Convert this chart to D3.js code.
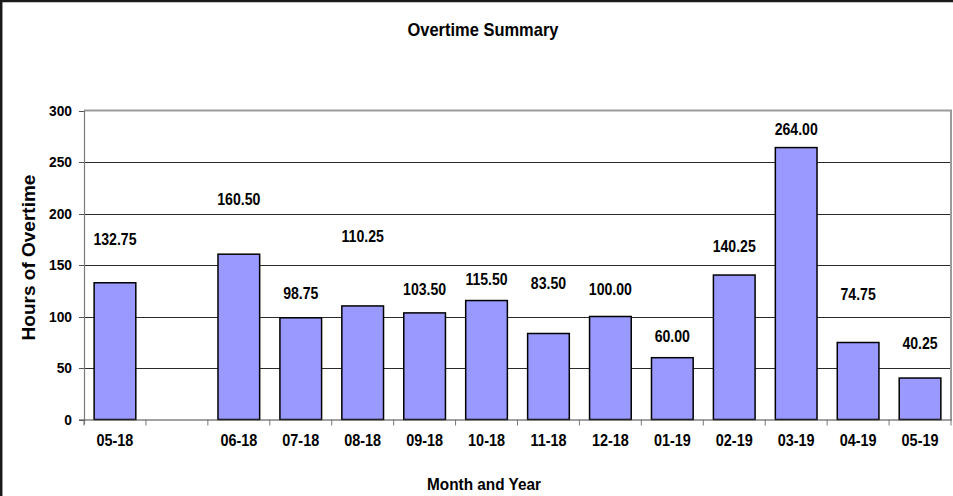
<!DOCTYPE html>
<html>

<head>
    <meta charset="utf-8">
    <title>Overtime Summary</title>
    <style>
        body {
            margin: 0;
            background: #fff;
        }

        text {
            font-family: "Liberation Sans", Arial, sans-serif;
            font-weight: bold;
            fill: #000;
        }
    </style>

    <script src="https://d3js.org/d3.v7.min.js"></script>

</head>

<body>
    <script>
        // chart data (the blank category is the gap Excel left after 05-18)
        var categories = ["05-18", "", "06-18", "07-18", "08-18", "09-18", "10-18", "11-18",
            "12-18", "01-19", "02-19", "03-19", "04-19", "05-19"];
        var hours = [132.75, null, 160.50, 98.75, 110.25, 103.50, 115.50, 83.50,
            100.00, 60.00, 140.25, 264.00, 74.75, 40.25];
        // where each value label sits, in hours (the labels were dragged around by hand)
        var labelAt = [175, null, 214, 123, 178, 126.4, 136, 132.8, 126.4, 81, 168.5, 282, 121.5, 74.5];
        var yTicks = [0, 50, 100, 150, 200, 250, 300];

        var w = 953;
        var h = 496;
        var plotL = 84, plotR = 951, plotT = 110.5, plotB = 419.5;

        var svg = d3.select("body").append("svg")
            .attr("width", w)
            .attr("height", h);

        // outer frame, only the top and left edges show in the picture
        svg.append("rect")
            .attr("x", 1.2).attr("y", 1)
            .attr("width", w + 20).attr("height", h + 20)
            .attr("fill", "none")
            .attr("stroke", "#1a1a1a")
            .attr("stroke-width", 2.5);

        var x = d3.scaleBand()
            .domain(categories)
            .range([plotL, plotR])
            .paddingInner(0.327)
            .paddingOuter(0.1635);

        var y = d3.scaleLinear()
            .domain([0, 300])
            .range([plotB, plotT]);

        function squeeze(sel, k) {
            sel.each(function () {
                var len = this.getComputedTextLength();
                d3.select(this)
                    .attr("textLength", len * k)
                    .attr("lengthAdjust", "spacingAndGlyphs");
            });
        }

        var bars = hours.map(function (v, i) { return { cat: categories[i], v: v, at: labelAt[i] }; })
            .filter(function (d) { return d.v !== null; });

        // gridlines
        svg.selectAll("line.grid")
            .data(yTicks.filter(function (d) { return d > 0 && d < 300; }))
            .enter()
            .append("line")
            .attr("class", "grid")
            .attr("x1", plotL).attr("x2", plotR)
            .attr("y1", function (d) { return Math.round(y(d)) + 0.5; })
            .attr("y2", function (d) { return Math.round(y(d)) + 0.5; })
            .attr("stroke", "#2b2b2b")
            .attr("stroke-width", 1);

        // plot border top/right (grey)
        svg.append("path")
            .attr("d", "M" + plotL + "," + plotT + "H" + plotR + "V" + plotB)
            .attr("fill", "none")
            .attr("stroke", "#9a9a9a")
            .attr("stroke-width", 2);

        // bars
        svg.selectAll("rect.bar")
            .data(bars)
            .enter()
            .append("rect")
            .attr("class", "bar")
            .attr("x", function (d) { return x(d.cat); })
            .attr("y", function (d) { return y(d.v); })
            .attr("width", x.bandwidth())
            .attr("height", function (d) { return y(0) - y(d.v); })
            .attr("fill", "#9999ff")
            .attr("stroke", "#000")
            .attr("stroke-width", 1.5);

        // axes
        svg.append("line")
            .attr("x1", plotL + 0.5).attr("x2", plotL + 0.5)
            .attr("y1", plotT).attr("y2", plotB + 5)
            .attr("stroke", "#7a7a7a").attr("stroke-width", 1.2);
        svg.append("line")
            .attr("x1", plotL - 5).attr("x2", plotR + 1)
            .attr("y1", plotB + 0.5).attr("y2", plotB + 0.5)
            .attr("stroke", "#444").attr("stroke-width", 1.2);

        // y tick marks and labels
        svg.selectAll("line.ytick")
            .data(yTicks)
            .enter()
            .append("line")
            .attr("class", "ytick")
            .attr("x1", plotL - 5).attr("x2", plotL)
            .attr("y1", function (d) { return Math.round(y(d)) + 0.5; })
            .attr("y2", function (d) { return Math.round(y(d)) + 0.5; })
            .attr("stroke", "#555");

        svg.selectAll("text.ylab")
            .data(yTicks)
            .enter()
            .append("text")
            .attr("class", "ylab")
            .attr("x", 72)
            .attr("y", function (d) { return y(d) + 5; })
            .attr("text-anchor", "end")
            .style("font-size", "14.5px")
            .text(function (d) { return d; })
            .call(squeeze, 0.95);

        // x tick marks at category boundaries
        svg.selectAll("line.xtick")
            .data(d3.range(categories.length + 1))
            .enter()
            .append("line")
            .attr("class", "xtick")
            .attr("x1", function (i) { return plotL + i * x.step(); })
            .attr("x2", function (i) { return plotL + i * x.step(); })
            .attr("y1", plotB).attr("y2", plotB + 6)
            .attr("stroke", "#777");

        svg.selectAll("text.xlab")
            .data(categories.filter(function (c) { return c !== ""; }))
            .enter()
            .append("text")
            .attr("class", "xlab")
            .attr("x", function (d) { return x(d) + x.bandwidth() / 2; })
            .attr("y", 445.5)
            .attr("text-anchor", "middle")
            .style("font-size", "16px")
            .text(function (d) { return d; })
            .call(squeeze, 0.9);

        // value labels
        svg.selectAll("text.val")
            .data(bars)
            .enter()
            .append("text")
            .attr("class", "val")
            .attr("x", function (d) { return x(d.cat) + x.bandwidth() / 2; })
            .attr("y", function (d) { return y(d.at) + 6; })
            .attr("text-anchor", "middle")
            .style("font-size", "16px")
            .text(function (d) { return d.v.toFixed(2); })
            .call(squeeze, 0.88);

        // titles
        svg.append("text")
            .attr("x", 483).attr("y", 36)
            .attr("text-anchor", "middle")
            .style("font-size", "18.5px")
            .text("Overtime Summary")
            .call(squeeze, 0.89);

        svg.append("text")
            .attr("x", 484).attr("y", 490)
            .attr("text-anchor", "middle")
            .style("font-size", "16.5px")
            .text("Month and Year")
            .call(squeeze, 0.93);

        svg.append("text")
            .attr("transform", "translate(35,257.5) rotate(-90)")
            .attr("text-anchor", "middle")
            .style("font-size", "19px")
            .text("Hours of Overtime");
    </script>

</body>

</html>
